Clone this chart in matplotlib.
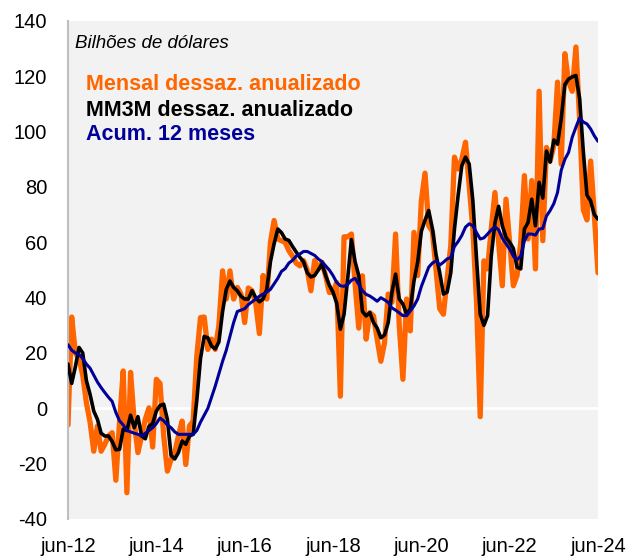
import matplotlib
matplotlib.use("Agg")
import matplotlib.pyplot as plt
import numpy as np

plt.rcParams['font.family'] = ['Liberation Sans', 'DejaVu Sans']
plt.rcParams['axes.unicode_minus'] = False

tick_labels = ["jun-12", "jun-14", "jun-16", "jun-18", "jun-20", "jun-22", "jun-24"]

mensal = [-6, 33, 20, 18, 12, 2, -5, -15.5, -6.4, -15.5, -13, -10, -8.8, -26, -5, 13.5, -30.5, 13, -5, -16,
          -10, -4, 0.2, -14, 10.5, 9, -10, -22.7, -18.5, -16, -10, -4.6, -20.3, -6.4, -4.6, 19, 32.8, 33, 21.3, 25,
          21.3, 30, 49.7, 39.5, 49.7, 39.5, 43.7, 41.3, 31, 43.5, 42.5, 38, 27, 48, 39.5, 60, 67.9, 61.2, 60.6, 60,
          57, 55, 52.5, 51.5, 53.4, 50, 42.5, 53.4, 50.4, 52.8, 47.9, 41.9, 41.9, 45.5, 4.4, 62, 62, 63, 45, 29,
          47.9, 25, 34.6, 33.4, 25, 17, 23.7, 41.3, 38.3, 63, 30, 10.5, 39.5, 28, 63.6, 48, 75, 85, 66, 64,
          50, 36, 34, 46.7, 58.8, 90.8, 86.5, 90, 96.2, 80.5, 64.8, 38.3, -3, 53.3, 50.4, 65, 78, 60, 44.3, 75.6,
          60, 44.3, 48, 60, 84.1, 61.2, 82.3, 50.4, 114.6, 60.6, 94.3, 89.4, 95, 117.9, 88.3, 128.2, 118, 114.6, 130.6, 104.6,
          71.8, 68.1, 89.4, 70, 49]

mm3m = [16, 9, 15, 22, 20, 10, 5, -1, -4, -9, -10, -10, -12, -15, -14.8, -7.5, -8, -2.5, -7, -3,
        -10, -11, -6.5, -5.5, -1, 1, 1.5, -4, -17, -18.3, -16, -11.8, -13, -10, -9.4, 3, 18, 26, 25.5, 22.5,
        21.5, 24, 35, 43, 46, 43.7, 42.5, 40.5, 39.5, 39.5, 42.5, 40, 38.5, 39.5, 43, 53, 59.5, 64.8, 63.5, 61.2,
        60.7, 58.5, 56.5, 54.6, 53, 49, 47.5, 48, 50, 52.2, 48, 44.5, 42, 38, 28.6, 34, 47, 61, 53, 48,
        35, 33.4, 34.6, 31, 29, 25.5, 26.5, 31, 41.9, 48.5, 39.5, 37.7, 34, 36, 46, 52.8, 64, 68, 71.5, 65,
        55.5, 49, 41.3, 42, 49, 64.8, 77, 87.7, 90.8, 88.3, 75, 54, 34, 30, 33.5, 55, 67, 73, 66, 61.8,
        60, 57.8, 51, 50.4, 64.8, 67.2, 75.6, 66, 81.7, 76, 93, 89, 97, 95.5, 104.6, 117, 119, 119.8, 120.3, 112,
        93, 77, 75, 70, 68.4]

acum12 = [23, 21, 20, 19.5, 18, 16, 14.5, 12, 9.5, 7.5, 5.7, 4, 2.5, -1.5, -4.5, -6, -8, -8.5, -9, -9.4,
          -10, -9, -8, -7, -5.5, -3.5, -4.5, -6, -7, -8.5, -9.4, -9.4, -9.4, -9.4, -9.4, -8, -5, -2.5, 0, 4,
          8, 12.5, 17, 21, 26, 31, 35, 35.5, 36, 37.5, 38.5, 39.5, 40.5, 41.3, 42, 43, 45, 47, 49.5, 50.5,
          52.5, 53.5, 55, 55.8, 56.7, 56.7, 56, 55.3, 54, 53, 51.5, 50, 48, 45.5, 44.3, 44.1, 44.8, 46.3, 47, 44.8,
          42.5, 41.2, 40.6, 39.7, 38.7, 40, 39.2, 38.3, 36.3, 35.5, 34.5, 33.5, 33.5, 35.2, 37, 39.5, 44, 47.5, 51, 52.5,
          53.3, 51.8, 52.8, 54, 54.5, 58.5, 60.3, 62.5, 65.5, 66.7, 66, 63.5, 61.2, 61.6, 63, 64.5, 65.6, 64.5, 61.5, 59.5,
          57.6, 55, 53.7, 55, 60.5, 63, 63, 62.6, 64.8, 65, 69.5, 71.5, 74, 78, 86, 90, 92.5, 98, 101.6, 105,
          103.5, 102.8, 101, 98.5, 96.5]

W, H = 627, 560
fig = plt.figure(figsize=(W / 100, H / 100), dpi=100)
ax = fig.add_axes([68 / W, 1 - 519 / H, (598 - 68) / W, (519 - 21) / H])
ax.set_facecolor('#F2F2F2')

ax.axhline(0, color='white', lw=2.0, zorder=1)
ax.plot(np.arange(len(mensal)), mensal, color='#FF6600', lw=3.8, solid_joinstyle='round',
        solid_capstyle='round', zorder=2)
ax.plot(np.arange(len(mm3m)), mm3m, color='black', lw=2.6, solid_joinstyle='round',
        solid_capstyle='round', zorder=3)
ax.plot(np.arange(len(acum12)), acum12, color='#000099', lw=2.2, solid_joinstyle='round',
        solid_capstyle='round', zorder=4)

ax.set_xlim(0, 144)
ax.set_ylim(-40, 140)
ax.set_yticks(np.arange(-40, 141, 20))
ax.set_xticks(np.arange(0, 145, 24))
ax.set_xticklabels(tick_labels)
ax.tick_params(axis='both', length=0, labelsize=14.5, colors='black')
ax.tick_params(axis='y', pad=15)
ax.tick_params(axis='x', pad=13)
for s in ['top', 'right', 'bottom']:
    ax.spines[s].set_visible(False)
ax.spines['left'].set_color('#BFBFBF')
ax.spines['left'].set_linewidth(1.5)

fig.text(75 / W, 1 - 48 / H, 'Bilhões de dólares', fontsize=13.5, style='italic', va='baseline', ha='left')
fig.text(86 / W, 1 - 90 / H, 'Mensal dessaz. anualizado', fontsize=15.5, fontweight='bold',
         color='#FF6600', va='baseline', ha='left')
fig.text(86 / W, 1 - 116 / H, 'MM3M dessaz. anualizado', fontsize=15.5, fontweight='bold',
         color='black', va='baseline', ha='left')
fig.text(86 / W, 1 - 140 / H, 'Acum. 12 meses', fontsize=15.5, fontweight='bold',
         color='#000099', va='baseline', ha='left')

fig.savefig('out.png', dpi=100)
